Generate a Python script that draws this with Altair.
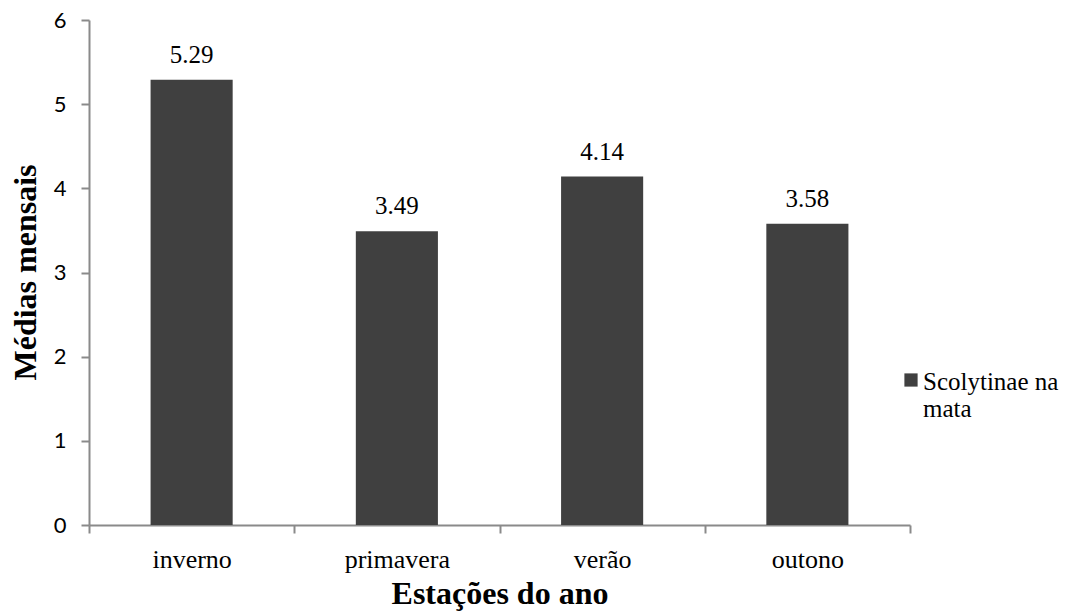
import altair as alt
import pandas as pd

# Seasonal monthly means for Scolytinae captured in the forest
seasons = ["inverno", "primavera", "verão", "outono"]
means = [5.29, 3.49, 4.14, 3.58]
series_name = "Scolytinae na mata"
legend_lines = "Scolytinae na\nmata"

df = pd.DataFrame({
    "estacao": seasons,
    "media": means,
    "serie": [series_name] * len(seasons),
})
legend_df = pd.DataFrame({"serie": [series_name], "rotulo": [legend_lines]})

SERIF = "Liberation Serif"
AXIS_GREY = "#8a8a8a"
BAR_COLOR = "#404040"

x_enc = alt.X(
    "estacao:N",
    sort=seasons,
    scale=alt.Scale(paddingInner=0, paddingOuter=0),
    axis=alt.Axis(
        title="Estações do ano",
        titleFont=SERIF,
        titleFontSize=32,
        titleFontWeight="bold",
        titleColor="black",
        titleBaseline="alphabetic",
        titleY=78,
        labelFont=SERIF,
        labelFontSize=26,
        labelColor="black",
        labelAngle=0,
        labelBaseline="alphabetic",
        labelPadding=34,
        tickBand="extent",
        tickSize=8,
        tickColor=AXIS_GREY,
        tickWidth=2,
        domainColor=AXIS_GREY,
        domainWidth=2,
        grid=False,
    ),
)

bars = alt.Chart(df).mark_bar(
    width=alt.RelativeBandSize(0.4), color=BAR_COLOR
).encode(
    x=x_enc,
    y=alt.Y(
        "media:Q",
        scale=alt.Scale(domain=[0, 6], nice=False),
        axis=alt.Axis(
            title="Médias mensais",
            titleFont=SERIF,
            titleFontSize=32,
            titleFontWeight="bold",
            titleColor="black",
            titleAngle=-90,
            titleBaseline="middle",
            titleAlign="center",
            titleX=-64,
            titleY=252,
            values=[0, 1, 2, 3, 4, 5, 6],
            format="d",
            labelFont="Lato",
            labelFontSize=22,
            labelColor="black",
            labelPadding=15,
            tickSize=8,
            tickColor=AXIS_GREY,
            tickWidth=2,
            domainColor=AXIS_GREY,
            domainWidth=2,
            grid=False,
        ),
    ),
)

labels = alt.Chart(df).mark_text(
    font=SERIF,
    fontSize=25,
    color="black",
    baseline="alphabetic",
    dy=-17,
).encode(
    x=alt.X("estacao:N", sort=seasons),
    y="media:Q",
    text=alt.Text("media:Q", format=".2f"),
)

# Legend entry on the right of the plot: swatch plus wrapped series name
legend_swatch = alt.Chart(legend_df).mark_square(
    size=175, color=BAR_COLOR, opacity=1
).encode(
    x=alt.value(822),
    y=alt.value(360),
)

legend_text = alt.Chart(legend_df).mark_text(
    font=SERIF,
    fontSize=25,
    color="black",
    align="left",
    baseline="alphabetic",
    lineBreak="\n",
    lineHeight=27,
).encode(
    x=alt.value(834),
    y=alt.value(370),
    text="rotulo:N",
)

chart = alt.layer(bars, labels, legend_swatch, legend_text).properties(
    width=821,
    height=505,
    autosize=alt.AutoSizeParams(type="none"),
    padding={"left": 89, "top": 20, "right": 168, "bottom": 88},
    background="white",
).configure_view(stroke=None)

chart.save("out.html", embed_options={"renderer": "svg", "actions": False})
